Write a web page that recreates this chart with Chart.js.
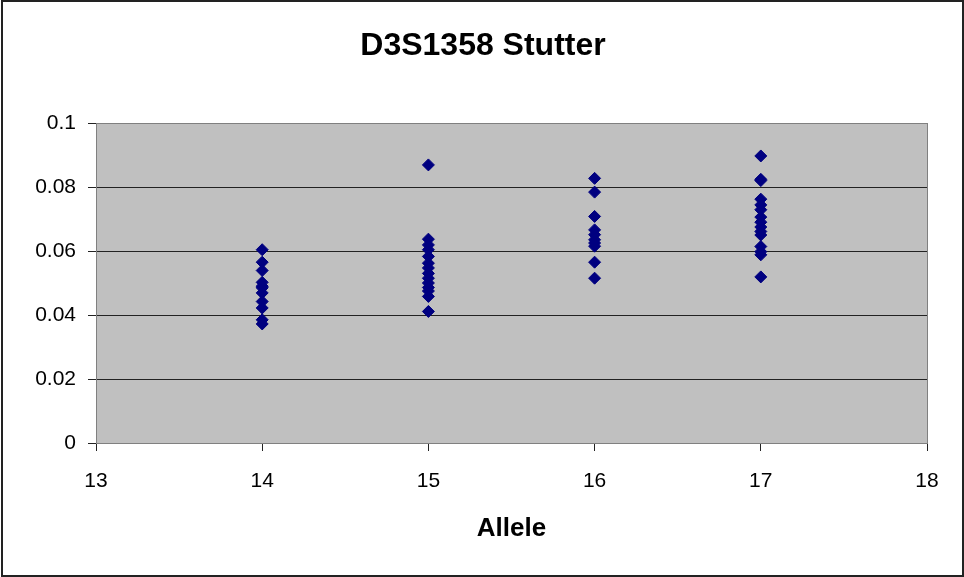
<!DOCTYPE html>
<html>
<head>
<meta charset="utf-8">
<style>
  html, body { margin: 0; padding: 0; background: #ffffff; }
  #wrap { width: 964px; height: 577px; position: relative; }
  canvas { display: block; }
</style>
<script src="https://cdn.jsdelivr.net/npm/chart.js@4/dist/chart.umd.min.js"></script>
</head>
<body>
<div id="wrap"><canvas id="chart" width="964" height="577"></canvas></div>
<script>
// Stutter ratios observed per allele
const alleles = [14, 15, 16, 17];
const stutter14 = [0.0604, 0.0565, 0.0539, 0.0502, 0.0490, 0.0485, 0.0469, 0.0442, 0.0422, 0.0385, 0.0372];
const stutter15 = [0.0869, 0.0637, 0.0619, 0.0604, 0.0583, 0.0562, 0.0547, 0.0530, 0.0515, 0.0500, 0.0486, 0.0475, 0.0458, 0.0411];
const stutter16 = [0.0827, 0.0784, 0.0708, 0.0666, 0.0651, 0.0635, 0.0625, 0.0615, 0.0565, 0.0515];
const stutter17 = [0.0897, 0.0824, 0.0820, 0.0762, 0.0744, 0.0729, 0.0706, 0.0690, 0.0675, 0.0661, 0.0650, 0.0614, 0.0598, 0.0588, 0.0519];

// Axis ticks
const yTickValues = [0, 0.02, 0.04, 0.06, 0.08, 0.1];
const yTickLabels = ['0', '0.02', '0.04', '0.06', '0.08', '0.1'];
const xTickValues = [13, 14, 15, 16, 17, 18];

const chartTitle = 'D3S1358 Stutter';
const xTitle = 'Allele';
const FONT = '"Liberation Sans", Arial, sans-serif';

const seriesByAllele = [stutter14, stutter15, stutter16, stutter17];
const points = [];
alleles.forEach((a, i) => {
  seriesByAllele[i].forEach(v => points.push({ x: a, y: v }));
});

// Gray plot area with a thin frame, the heading centred on the whole canvas,
// and an outer border round the chart
const framePlugin = {
  id: 'frame',
  beforeDraw(chart) {
    const { ctx, chartArea: a } = chart;
    ctx.save();
    ctx.fillStyle = '#ffffff';
    ctx.fillRect(0, 0, chart.width, chart.height);
    ctx.fillStyle = '#c0c0c0';
    ctx.fillRect(a.left, a.top, a.right - a.left, a.bottom - a.top);
    ctx.restore();
  },
  beforeDatasetsDraw(chart) {
    const { ctx, chartArea: a } = chart;
    ctx.save();
    ctx.strokeStyle = '#808080';
    ctx.lineWidth = 1;
    ctx.strokeRect(Math.round(a.left) + 0.5, Math.round(a.top) + 0.5,
                   Math.round(a.right - a.left), Math.round(a.bottom - a.top));
    ctx.restore();
  },
  afterDraw(chart) {
    const { ctx } = chart;
    ctx.save();
    ctx.fillStyle = '#000000';
    ctx.font = 'bold 32px ' + FONT;
    ctx.textAlign = 'center';
    ctx.textBaseline = 'middle';
    ctx.fillText(chartTitle, chart.width / 2 + 1, 46);
    ctx.strokeStyle = '#222222';
    ctx.lineWidth = 2;
    ctx.strokeRect(2, 1, chart.width - 3, chart.height - 2);
    ctx.restore();
  }
};

Chart.defaults.font.family = FONT;
Chart.defaults.color = '#000000';

new Chart(document.getElementById('chart'), {
  type: 'scatter',
  data: {
    datasets: [{
      label: 'Stutter',
      data: points,
      pointStyle: 'rectRot',
      pointRadius: 6,
      pointHoverRadius: 6,
      backgroundColor: '#000080',
      borderColor: '#000080',
      borderWidth: 1
    }]
  },
  options: {
    responsive: false,
    animation: false,
    devicePixelRatio: 1,
    layout: { padding: { left: 0, right: 37, top: 123, bottom: 0 } },
    plugins: {
      legend: { display: false },
      tooltip: { enabled: false },
      title: { display: false }
    },
    scales: {
      x: {
        type: 'linear',
        min: 13,
        max: 18,
        afterBuildTicks(scale) { scale.ticks = xTickValues.map(v => ({ value: v })); },
        afterFit(scale) { scale.height = 134; },
        ticks: {
          font: { size: 21 },
          color: '#000000',
          padding: 18,
          maxRotation: 0,
          callback: (v) => String(v)
        },
        grid: {
          drawOnChartArea: false,
          drawTicks: true,
          tickLength: 8,
          color: '#222222'
        },
        border: { display: true, color: '#222222', width: 1 },
        title: {
          display: true,
          text: xTitle,
          color: '#000000',
          font: { size: 26, weight: 'bold' },
          padding: { top: 0, bottom: 33 }
        }
      },
      y: {
        type: 'linear',
        min: 0,
        max: 0.1,
        afterBuildTicks(scale) { scale.ticks = yTickValues.map(v => ({ value: v })); },
        afterFit(scale) { scale.width = 96; },
        ticks: {
          font: { size: 21 },
          color: '#000000',
          padding: 12,
          callback: (v, i) => yTickLabels[i]
        },
        grid: {
          drawOnChartArea: true,
          drawTicks: true,
          tickLength: 8,
          color: '#222222',
          lineWidth: 1
        },
        border: { display: true, color: '#222222', width: 1 }
      }
    }
  },
  plugins: [framePlugin]
});
</script>
</body>
</html>
